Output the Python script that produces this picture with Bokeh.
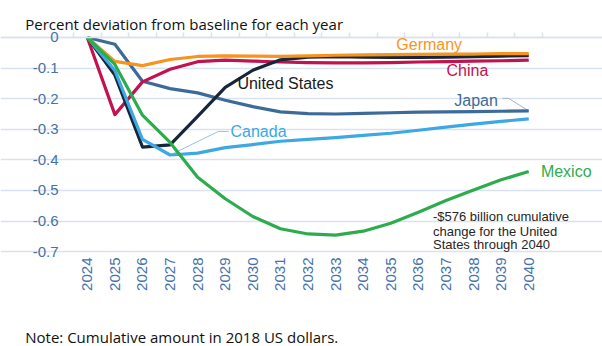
import math
from bokeh.plotting import figure
from bokeh.models import FixedTicker, LinearAxis, Label, Range1d
from bokeh.embed import file_html
from bokeh.resources import INLINE

# ---- data ----
years = list(range(2024, 2041))
year_labels = [str(y) for y in years]

united_states = [0, -0.123, -0.358, -0.351, -0.258, -0.163, -0.107, -0.073, -0.064, -0.063,
                 -0.064, -0.065, -0.065, -0.064, -0.063, -0.061, -0.059]
china = [0, -0.252, -0.145, -0.104, -0.079, -0.074, -0.077, -0.080, -0.082, -0.083,
         -0.083, -0.082, -0.080, -0.079, -0.077, -0.076, -0.074]
japan = [0, -0.022, -0.143, -0.167, -0.181, -0.205, -0.226, -0.243, -0.249, -0.250,
         -0.248, -0.246, -0.244, -0.243, -0.242, -0.241, -0.240]
germany = [0, -0.078, -0.092, -0.072, -0.062, -0.060, -0.061, -0.062, -0.060, -0.058,
           -0.057, -0.056, -0.055, -0.054, -0.054, -0.053, -0.053]
canada = [0, -0.108, -0.333, -0.384, -0.378, -0.360, -0.350, -0.339, -0.333, -0.327,
          -0.320, -0.313, -0.303, -0.293, -0.283, -0.274, -0.266]
mexico = [0, -0.088, -0.254, -0.343, -0.457, -0.527, -0.585, -0.625, -0.642, -0.646,
          -0.633, -0.607, -0.571, -0.533, -0.498, -0.465, -0.438]

y_ticks = [0, -0.1, -0.2, -0.3, -0.4, -0.5, -0.6, -0.7]
y_tick_labels = ["0", "-0.1", "-0.2", "-0.3", "-0.4", "-0.5", "-0.6", "-0.7"]

title_text = "Percent deviation from baseline for each year"
note_text = "Note: Cumulative amount in 2018 US dollars."
annotation_lines = ["-$576 billion cumulative", "change for the United", "States through 2040"]

# ---- styles ----
C_US = "#17263A"
C_CN = "#C4124F"
C_JP = "#3D6B99"
C_DE = "#F7941E"
C_CA = "#3DA8E3"
C_MX = "#2DAC4D"
GRID = "#D9E2EF"
TICK_TXT = "#4472AA"
ARIAL = "Liberation Sans"

# whole canvas is the plotting frame; axes are pinned with fixed_location
X_LO, X_HI = years[0] - 0.5, years[-1] + 0.5
p = figure(width=602, height=346, output_backend="svg", toolbar_location=None,
           x_range=Range1d(2020.854, 2042.673), y_range=Range1d(-1.0098, 0.1209),
           min_border_left=0, min_border_right=0, min_border_top=0, min_border_bottom=0)
p.outline_line_color = None
p.background_fill_color = "white"
p.border_fill_color = "white"

# bottom x axis (labels only)
xa = p.xaxis[0]
xa.fixed_location = -0.7157
xa.ticker = FixedTicker(ticks=years)
xa.major_label_overrides = {y: s for y, s in zip(years, year_labels)}
xa.major_label_orientation = math.pi / 2
xa.axis_line_color = None
xa.major_tick_line_color = None
xa.minor_tick_line_color = None
xa.major_tick_out = 0
xa.major_tick_in = 0
xa.major_label_standoff = 1
xa.major_label_text_font = ARIAL
xa.major_label_text_font_size = "15px"
xa.major_label_text_color = TICK_TXT

# y axis
ya = p.yaxis[0]
ya.fixed_location = X_LO
ya.ticker = FixedTicker(ticks=y_ticks)
ya.major_label_overrides = {t: s for t, s in zip(y_ticks, y_tick_labels)}
ya.axis_line_color = None
ya.major_tick_line_color = None
ya.minor_tick_line_color = None
ya.major_tick_out = 0
ya.major_tick_in = 0
ya.major_label_standoff = 15
ya.major_label_text_font = ARIAL
ya.major_label_text_font_size = "15px"
ya.major_label_text_color = TICK_TXT

p.xgrid.visible = False
p.ygrid.ticker = FixedTicker(ticks=y_ticks)
p.ygrid.bounds = (X_LO, X_HI)
p.ygrid.grid_line_color = GRID
p.ygrid.grid_line_width = 1.5

# category axis at y = 0 with tick marks between years
bounds = [y - 0.5 for y in years] + [X_HI]
top = LinearAxis(ticker=FixedTicker(ticks=bounds), fixed_location=0,
                 major_tick_out=5, major_tick_in=0,
                 major_tick_line_color=GRID, major_tick_line_width=1.5,
                 minor_tick_line_color=None,
                 axis_line_color=GRID, axis_line_width=1.5,
                 major_label_text_color=None, major_label_standoff=0)
p.add_layout(top, "above")

# leader lines
p.line([2039.05, 2039.27, years[-1]], [-0.199, -0.199, japan[-1]],
       line_color="#9DB7D2", line_width=1)
p.line([2029.12, 2028.75, years[3]], [-0.307, -0.307, canada[3]],
       line_color="#9DBFDF", line_width=1)

# series
for series, col in [(japan, C_JP), (china, C_CN), (united_states, C_US),
                    (germany, C_DE), (canada, C_CA), (mexico, C_MX)]:
    p.line(years, series, line_color=col, line_width=3.2, line_join="round")

def lab(x, y, text, color, size="16px", font=ARIAL, baseline="middle", align="left"):
    p.add_layout(Label(x=x, y=y, text=text, text_color=color, text_font=font,
                       text_font_size=size, text_baseline=baseline, text_align=align))

lab(2035.2, -0.0222, "Germany", C_DE)
lab(2037.02, -0.1069, "China", C_CN)
lab(2029.44, -0.1503, "United States", "#1A1A1A")
lab(2037.30, -0.2049, "Japan", C_JP)
lab(2029.19, -0.307, "Canada", C_CA)
lab(2040.44, -0.4395, "Mexico", C_MX)
for txt, yy in zip(annotation_lines, [-0.5843, -0.6324, -0.678]):
    lab(2036.53, yy, txt, "#262626", size="13px")

lab(2021.75, 0.0448, title_text, "#111111", size="15px", font="Open Sans", baseline="alphabetic")
lab(2021.75, -0.980, note_text, "#111111", size="15px", font="Open Sans", baseline="alphabetic")

open("out.html", "w").write(file_html(p, INLINE))
